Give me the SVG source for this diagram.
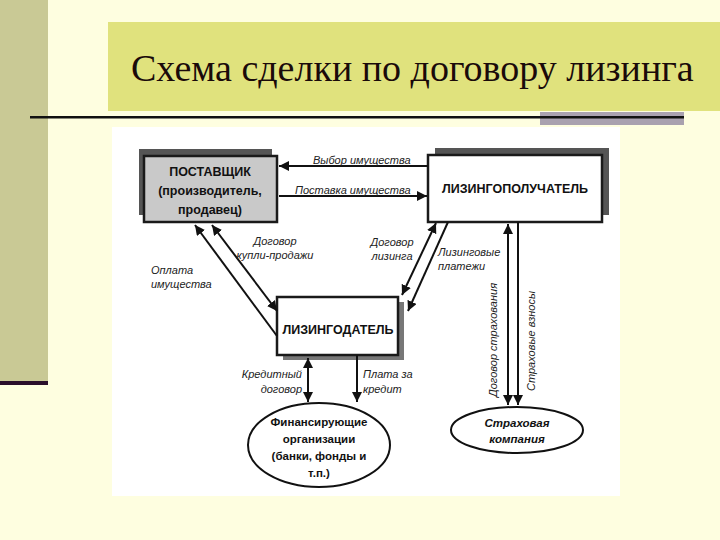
<svg xmlns="http://www.w3.org/2000/svg" width="720" height="540" viewBox="0 0 720 540">
<defs>
<marker id="ah" viewBox="0 0 10 10" refX="10" refY="5" markerWidth="10" markerHeight="10" markerUnits="userSpaceOnUse" orient="auto-start-reverse">
<path d="M0,0 L10,5 L0,10 z" fill="#111"/>
</marker>
<style>
.ttl{font-family:"Liberation Serif","Times New Roman",serif;font-size:38px;fill:#1a0a0a}
.lbl{font-family:"Liberation Sans",Arial,sans-serif;font-style:italic;font-size:11px;fill:#222}
.nt{font-family:"Liberation Sans",Arial,sans-serif;font-weight:bold;font-size:12.5px;fill:#111;text-anchor:middle}
.et{font-family:"Liberation Sans",Arial,sans-serif;font-weight:bold;font-size:11.5px;fill:#111;text-anchor:middle}
.con line{stroke:#111;stroke-width:2;fill:none}
.box{stroke:#1a1a1a;stroke-width:2.5}
</style>
</defs>
<rect width="720" height="540" fill="#FEFEE0"/>
<rect x="0" y="0" width="48" height="381" fill="#C9C995"/>
<rect x="0" y="381" width="48" height="4" fill="#2A0E2A"/>
<rect x="108" y="22" width="612" height="89" fill="#E0E27D"/>
<text class="ttl" x="131" y="81">Схема сделки по договору лизинга</text>
<rect x="540" y="112" width="144" height="13" fill="#A9A1AF"/>
<rect x="30" y="116" width="654" height="2.5" fill="#111"/>
<rect x="112" y="127" width="508" height="369" fill="#FFFFFF"/>

<g id="supplier">
<rect x="139" y="149" width="133" height="66" fill="#555"/>
<rect class="box" x="144" y="156" width="133" height="66" fill="#C9C9C9"/>
<text class="nt" x="210" y="176">ПОСТАВЩИК</text>
<text class="nt" x="210" y="195">(производитель,</text>
<text class="nt" x="210" y="214">продавец)</text>
</g>
<g id="lessee">
<rect x="435" y="148" width="174" height="67" fill="#555"/>
<rect class="box" x="428" y="155" width="174" height="67" fill="#FFFFFF"/>
<text class="nt" x="515" y="193">ЛИЗИНГОПОЛУЧАТЕЛЬ</text>
</g>
<g id="lessor">
<rect x="283" y="302" width="121" height="58" fill="#777"/>
<rect class="box" x="277" y="297" width="121" height="58" fill="#FFFFFF"/>
<text class="nt" x="338" y="334">ЛИЗИНГОДАТЕЛЬ</text>
</g>
<g id="finance">
<ellipse cx="319" cy="445" rx="71" ry="42" fill="#FFFFFF" stroke="#111" stroke-width="2"/>
<text class="et" x="319" y="426">Финансирующие</text>
<text class="et" x="319" y="443">организации</text>
<text class="et" x="319" y="460">(банки, фонды и</text>
<text class="et" x="319" y="477">т.п.)</text>
</g>
<g id="insurance">
<ellipse cx="517" cy="430" rx="66" ry="23" fill="#FFFFFF" stroke="#111" stroke-width="2"/>
<text class="et" x="517" y="427" font-style="italic">Страховая</text>
<text class="et" x="517" y="443" font-style="italic">компания</text>
</g>

<g id="connectors" class="con">
<line x1="428" y1="166" x2="279" y2="166" marker-end="url(#ah)"/>
<line x1="279" y1="196" x2="427" y2="196" marker-end="url(#ah)"/>
<line x1="277" y1="336" x2="195" y2="225" marker-end="url(#ah)"/>
<line x1="212" y1="225" x2="277" y2="311" marker-start="url(#ah)" marker-end="url(#ah)"/>
<line x1="436" y1="223" x2="402" y2="295" marker-start="url(#ah)" marker-end="url(#ah)"/>
<line x1="448" y1="222" x2="408" y2="311" marker-end="url(#ah)"/>
<line x1="508" y1="224" x2="508" y2="405" marker-start="url(#ah)" marker-end="url(#ah)"/>
<line x1="518" y1="222" x2="518" y2="405" marker-end="url(#ah)"/>
<line x1="308" y1="358" x2="308" y2="402" marker-start="url(#ah)" marker-end="url(#ah)"/>
<line x1="357" y1="355" x2="357" y2="402" marker-end="url(#ah)"/>
</g>

<g id="labels">
<text class="lbl" x="313" y="164">Выбор имущества</text>
<text class="lbl" x="295" y="194">Поставка имущества</text>
<text class="lbl" x="275" y="245" text-anchor="middle">Договор</text>
<text class="lbl" x="275" y="259" text-anchor="middle">купли-продажи</text>
<text class="lbl" x="151" y="274">Оплата</text>
<text class="lbl" x="151" y="288">имущества</text>
<text class="lbl" x="392" y="246" text-anchor="middle">Договор</text>
<text class="lbl" x="392" y="260" text-anchor="middle">лизинга</text>
<text class="lbl" x="438" y="256">Лизинговые</text>
<text class="lbl" x="438" y="270">платежи</text>
<text class="lbl" transform="translate(497,340) rotate(-90)" text-anchor="middle">Договор страхования</text>
<text class="lbl" transform="translate(535,341) rotate(-90)" text-anchor="middle">Страховые взносы</text>
<text class="lbl" x="302" y="378" text-anchor="end">Кредитный</text>
<text class="lbl" x="302" y="393" text-anchor="end">договор</text>
<text class="lbl" x="363" y="378">Плата за</text>
<text class="lbl" x="363" y="393">кредит</text>
</g>
</svg>
